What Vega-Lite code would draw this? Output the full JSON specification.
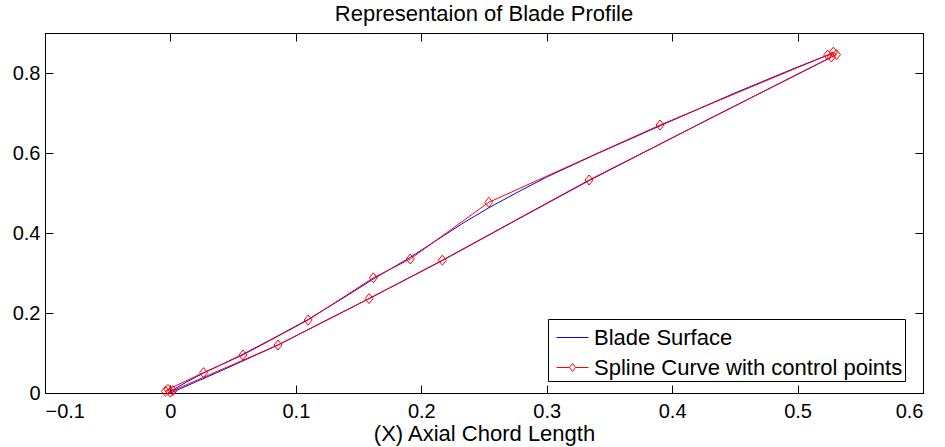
{
  "$schema": "https://vega.github.io/schema/vega-lite/v6.json",
  "autosize": {"type": "none"},
  "padding": {"left": 45, "top": 33, "right": 22, "bottom": 54},
  "width": 878,
  "height": 360,
  "background": "white",
  "title": {
    "text": "Representaion of Blade Profile",
    "font": "Liberation Sans",
    "fontSize": 22,
    "fontWeight": "normal",
    "color": "black",
    "baseline": "alphabetic",
    "offset": -10
  },
  "config": {
    "view": {"stroke": "black", "strokeWidth": 1},
    "axis": {
      "grid": false,
      "domainColor": "black",
      "domainWidth": 1,
      "tickColor": "black",
      "tickSize": -8,
      "labelColor": "black",
      "labelFont": "Liberation Sans",
      "labelFontSize": 20,
      "titleFont": "Liberation Sans",
      "titleFontSize": 22,
      "titleFontWeight": "normal",
      "titleColor": "black"
    }
  },
  "datasets": {
    "surface": [
      {"order": 1, "x": 0.0, "y": 0.004},
      {"order": 2, "x": 0.012, "y": 0.026},
      {"order": 3, "x": 0.0264, "y": 0.05},
      {"order": 4, "x": 0.042, "y": 0.073},
      {"order": 5, "x": 0.0578, "y": 0.097},
      {"order": 6, "x": 0.084, "y": 0.14},
      {"order": 7, "x": 0.1098, "y": 0.184},
      {"order": 8, "x": 0.136, "y": 0.234},
      {"order": 9, "x": 0.1618, "y": 0.285},
      {"order": 10, "x": 0.1912, "y": 0.339},
      {"order": 11, "x": 0.2152, "y": 0.388},
      {"order": 12, "x": 0.235, "y": 0.428},
      {"order": 13, "x": 0.2538, "y": 0.463},
      {"order": 14, "x": 0.275, "y": 0.499},
      {"order": 15, "x": 0.3, "y": 0.54},
      {"order": 16, "x": 0.34, "y": 0.598},
      {"order": 17, "x": 0.3904, "y": 0.668},
      {"order": 18, "x": 0.45, "y": 0.75},
      {"order": 19, "x": 0.5, "y": 0.815},
      {"order": 20, "x": 0.527, "y": 0.848},
      {"order": 21, "x": 0.526, "y": 0.838},
      {"order": 22, "x": 0.43, "y": 0.686},
      {"order": 23, "x": 0.3338, "y": 0.531},
      {"order": 24, "x": 0.275, "y": 0.431},
      {"order": 25, "x": 0.2168, "y": 0.331},
      {"order": 26, "x": 0.1584, "y": 0.236},
      {"order": 27, "x": 0.12, "y": 0.175},
      {"order": 28, "x": 0.0858, "y": 0.12},
      {"order": 29, "x": 0.04, "y": 0.055},
      {"order": 30, "x": 0.0, "y": 0.0}
    ],
    "spline": [
      {"order": 1, "x": -0.004, "y": 0.004},
      {"order": 2, "x": -0.002, "y": 0.009},
      {"order": 3, "x": 0.0264, "y": 0.051},
      {"order": 4, "x": 0.0578, "y": 0.095},
      {"order": 5, "x": 0.1098, "y": 0.1825},
      {"order": 6, "x": 0.1618, "y": 0.288},
      {"order": 7, "x": 0.1912, "y": 0.335},
      {"order": 8, "x": 0.2538, "y": 0.4767},
      {"order": 9, "x": 0.3904, "y": 0.67},
      {"order": 10, "x": 0.524, "y": 0.845},
      {"order": 11, "x": 0.5285, "y": 0.852},
      {"order": 12, "x": 0.531, "y": 0.846},
      {"order": 13, "x": 0.527, "y": 0.84},
      {"order": 14, "x": 0.3338, "y": 0.5325},
      {"order": 15, "x": 0.2168, "y": 0.332},
      {"order": 16, "x": 0.1584, "y": 0.236},
      {"order": 17, "x": 0.0858, "y": 0.12},
      {"order": 18, "x": 0.002, "y": 0.006},
      {"order": 19, "x": 0.0, "y": 0.002}
    ]
  },
  "resolve": {"axis": {"x": "independent", "y": "independent"}},
  "layer": [
    {
      "data": {"name": "surface"},
      "transform": [{"calculate": "'Blade Surface'", "as": "series"}],
      "mark": {"type": "line", "strokeWidth": 1, "interpolate": "linear"},
      "encoding": {
        "x": {
          "field": "x", "type": "quantitative",
          "scale": {"domain": [-0.1, 0.6], "nice": false, "zero": false},
          "axis": {"orient": "bottom", "values": [-0.1, 0, 0.1, 0.2, 0.3, 0.4, 0.5, 0.6], "format": "~g", "labelPadding": 16, "title": "(X) Axial Chord Length", "titlePadding": 2}
        },
        "y": {
          "field": "y", "type": "quantitative",
          "scale": {"domain": [0, 0.9], "nice": false, "zero": false},
          "axis": {"orient": "left", "values": [0, 0.2, 0.4, 0.6, 0.8], "format": "~g", "labelPadding": 13, "title": null}
        },
        "order": {"field": "order", "type": "quantitative"},
        "color": {
          "field": "series", "type": "nominal",
          "scale": {"domain": ["Blade Surface", "Spline Curve with control points"], "range": ["#0000ff", "#ff0000"]},
          "legend": {
            "orient": "none",
            "legendX": 503,
            "legendY": 286,
            "title": null,
            "strokeColor": "black",
            "fillColor": "white",
            "padding": 2,
            "symbolOffset": 6,
            "symbolSize": 1024,
            "symbolStrokeWidth": 1,
            "labelFont": "Liberation Sans",
            "labelFontSize": 22,
            "labelColor": "black",
            "labelOffset": 5,
            "labelLimit": 500,
            "rowPadding": 2,
            "encode": {
              "symbols": {
                "update": {
                  "shape": {"signal": "datum.value === 'Blade Surface' ? 'M-1,0H1' : 'M-1,0H-0.19M0.19,0H1M0,-0.25L0.19,0L0,0.25L-0.19,0Z'"},
                  "fill": {"value": "transparent"}
                }
              }
            }
          }
        }
      }
    },
    {
      "data": {"name": "spline"},
      "transform": [{"calculate": "'Spline Curve with control points'", "as": "series"}],
      "mark": {"type": "line", "strokeWidth": 1, "interpolate": "linear"},
      "encoding": {
        "x": {"field": "x", "type": "quantitative", "axis": null},
        "y": {"field": "y", "type": "quantitative", "axis": null},
        "order": {"field": "order", "type": "quantitative"},
        "color": {"field": "series", "type": "nominal"}
      }
    },
    {
      "data": {"name": "spline"},
      "mark": {"type": "point", "shape": "M0,-1L0.8,0L0,1L-0.8,0Z", "size": 100, "filled": false, "color": "#ff0000", "strokeWidth": 1, "opacity": 1},
      "encoding": {
        "x": {
          "field": "x", "type": "quantitative",
          "axis": {"orient": "top", "values": [-0.1, 0, 0.1, 0.2, 0.3, 0.4, 0.5, 0.6], "labels": false, "title": null}
        },
        "y": {
          "field": "y", "type": "quantitative",
          "axis": {"orient": "right", "values": [0, 0.2, 0.4, 0.6, 0.8], "labels": false, "title": null}
        }
      }
    }
  ]
}
